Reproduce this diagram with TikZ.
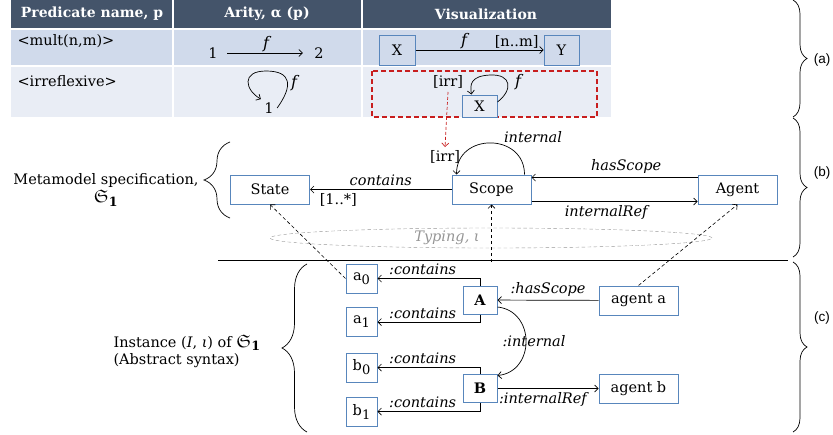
\documentclass[tikz,border=0pt]{standalone}
\usepackage{amsmath}
\usepackage{amsfonts}
\usepackage{fontspec}
\setmainfont{DejaVu Serif}
\newfontfamily\tagfont{Liberation Sans}
\usetikzlibrary{arrows.meta,decorations.pathreplacing,shapes.geometric}

\definecolor{headblue}{RGB}{68,84,106}
\definecolor{rowone}{RGB}{208,218,235}
\definecolor{rowtwo}{RGB}{233,237,245}
\definecolor{boxblue}{RGB}{88,134,188}
\definecolor{irrred}{RGB}{200,30,30}
\definecolor{typegray}{RGB}{150,150,150}

\newcommand{\bodyfont}{\fontsize{14.5}{17}\selectfont}
\newcommand{\headfont}{\fontsize{14}{16}\selectfont\bfseries}
\newcommand{\lowsub}[1]{\raisebox{-4pt}{\fontsize{13}{14}\selectfont #1}}
\newcommand{\fraksig}{{\fontsize{18}{20}\selectfont$\mathfrak{S}_{\mathbf{1}}$}}
\newcommand{\relf}{{\fontsize{16}{17}\selectfont\itshape f}}

\begin{document}
\begin{tikzpicture}[x=1pt, y=-1pt, >={Straight Barb[length=3.5pt,width=7pt]},
  every node/.style={font=\bodyfont},
  cls/.style={draw=boxblue, line width=1pt, fill=white, minimum width=79pt, minimum height=29pt, inner sep=0pt},
  inst/.style={cls, minimum width=31pt},
  hdr/.style={text=white, font=\headfont},
  lbl/.style={font=\bodyfont\itshape},
  rel/.style={->, line width=0.7pt},
  typ/.style={->, dash pattern=on 3.5pt off 2.5pt, line width=0.6pt},
  bracebar/.style={decorate, decoration={brace, amplitude=#1}, line width=0.7pt},
  tag/.style={font=\tagfont\fontsize{13.5}{15}\selectfont}]
  \useasboundingbox (0,0) rectangle (833,434);

  \fill[headblue] (11,0) rectangle (611,28);
  \fill[rowone] (11,30) rectangle (611,65);
  \fill[rowtwo] (11,67) rectangle (611,117);
  \draw[white, line width=2pt] (173,0) -- (173,117) (362,0) -- (362,117);

  \node[hdr] (hpred) at (92,14) {Predicate name, p};
  \node[hdr] (harity) at (267,14) {Arity, α (p)};
  \node[hdr] (hvis) at (486,14) {Visualization};

  \node[anchor=west] (pmult) at (14,41) {<mult(n,m)>};
  \node[anchor=west] (pirr) at (14,81) {<irreflexive>};

  \node (ar1) at (213,53) {1};
  \node (ar2) at (319,53) {2};
  \path[rel] (ar1) edge[shorten <=6pt, shorten >=8pt] node[above, inner sep=1pt] {\relf} (ar2);

  \node (al1) at (269,108) {1};
  \node (alf) at (294,83) {\relf};
  \draw[rel] (al1.east) .. controls (293,86) and (292,71) .. (266,71) .. controls (241,71) and (245,90) .. (al1.north west);

  \node[cls, minimum width=36pt, minimum height=30pt, fill=rowone] (vx) at (397,50) {X};
  \node[cls, minimum width=35pt, minimum height=30pt, fill=rowone] (vy) at (561.5,50) {Y};
  \draw[rel] (vx) -- node[pos=0.38, above, inner sep=1pt] {\relf} node[pos=0.79, above, inner sep=1pt] {[n..m]} (vy);

  \draw[irrred, dash pattern=on 5pt off 3pt, line width=1.2pt] (372,71) rectangle (597,117);
  \node[cls, minimum width=35pt, minimum height=22pt, fill=rowtwo] (vxi) at (479.5,106) {X};
  \node (virr) at (448,82) {[irr]};
  \node (vxf) at (518,82) {\relf};
  \draw[rel] ([yshift=4pt]vxi.east) .. controls (513,90) and (512,74) .. (490,75) .. controls (470,76) and (470,85) .. ([xshift=10pt]vxi.north west);

  \node[cls] (state) at (270,189.5) {State};
  \node[cls] (scope) at (491.5,189.5) {Scope};
  \node[cls] (agent) at (737.5,189.5) {Agent};
  \node (mirr) at (445,157) {[irr]};
  \node[lbl] (minternal) at (533,137) {internal};
  \draw[->, dash pattern=on 3pt off 2pt, draw=irrred, line width=0.7pt] (virr.south) -- (mirr.north);

  \draw[rel] (scope) -- node[above, lbl] {contains} node[below, pos=0.8] {[1..*]} (state);
  \draw[rel] ([xshift=-7pt]scope.north east) .. controls +(0,-42) and +(0,-42) .. ([xshift=5pt]scope.north west);
  \draw[rel] ([yshift=12pt]agent.west) -- node[above, lbl, pos=0.43] {hasScope} ([yshift=12pt]scope.east);
  \draw[rel] ([yshift=-12pt]scope.east) -- node[below, lbl, pos=0.45] {internalRef} ([yshift=-12pt]agent.west);

  \node[ellipse, draw=typegray, dash pattern=on 3.5pt off 2.5pt, minimum width=442pt, minimum height=20pt, inner sep=0pt] (typing) at (491,238) {};
  \node[lbl, text=typegray] (typlbl) at (447,238) {Typing, ι};

  \draw[line width=1pt] (218,260) -- (788,260);

  \node[inst] (a0) at (361.5,278.5) {a\lowsub{0}};
  \node[inst] (a1) at (361.5,322) {a\lowsub{1}};
  \node[inst] (b0) at (361.5,367.5) {b\lowsub{0}};
  \node[inst] (b1) at (361.5,411.5) {b\lowsub{1}};
  \node[inst, minimum width=34pt, minimum height=28pt] (A) at (480,300) {\textbf{A}};
  \node[inst, minimum width=34pt, minimum height=28pt] (B) at (480,388.5) {\textbf{B}};
  \node[cls] (agenta) at (638.5,300.5) {agent a};
  \node[cls] (agentb) at (638.5,388.5) {agent b};

  \draw[rel] (A.north) |- node[above, lbl, pos=0.78] {:contains} (a0);
  \draw[rel] (A.south) |- node[above, lbl, pos=0.78] {:contains} (a1);
  \draw[rel] (B.north) |- node[above, lbl, pos=0.78] {:contains} (b0);
  \draw[rel] (B.south) |- node[above, lbl, pos=0.78] {:contains} (b1);
  \draw[rel] (agenta) -- node[above, lbl] {:hasScope} (A);
  \draw[rel] ([yshift=-7pt]A.east) .. controls +(38,4) and +(38,-4) .. ([yshift=13pt]B.east) node[lbl, pos=0.5, xshift=8pt] {:internal};
  \draw[rel] (B) -- node[below, lbl, pos=0.45] {:internalRef} (agentb);

  \coordinate (scopetyp) at (491.5,262);
  \draw[typ] (a0.west) -- (state.south);
  \draw[typ] (scopetyp) -- (scope.south);
  \draw[typ] (agenta.north) -- (agent.south);

  \node[align=center] (metalbl) at (106,190) {Metamodel specification,\\[1pt]\fraksig};
  \draw[bracebar=26pt] (230,218) -- (230,142);
  \node[align=left, anchor=west] (instlbl) at (110,351) {Instance (\textit{I}, \textit{ι}) of \fraksig\\(Abstract syntax)};
  \draw[bracebar=25pt] (307,432) -- (307,264);

  \draw[bracebar=14pt] (793,0) -- (793,117);
  \draw[bracebar=14pt] (793,118) -- (793,257);
  \draw[bracebar=14pt] (793,262) -- (793,432);
  \node[tag] (taga) at (822,60) {(a)};
  \node[tag] (tagb) at (822,173) {(b)};
  \node[tag] (tagc) at (822,318) {(c)};
\end{tikzpicture}
\end{document}
